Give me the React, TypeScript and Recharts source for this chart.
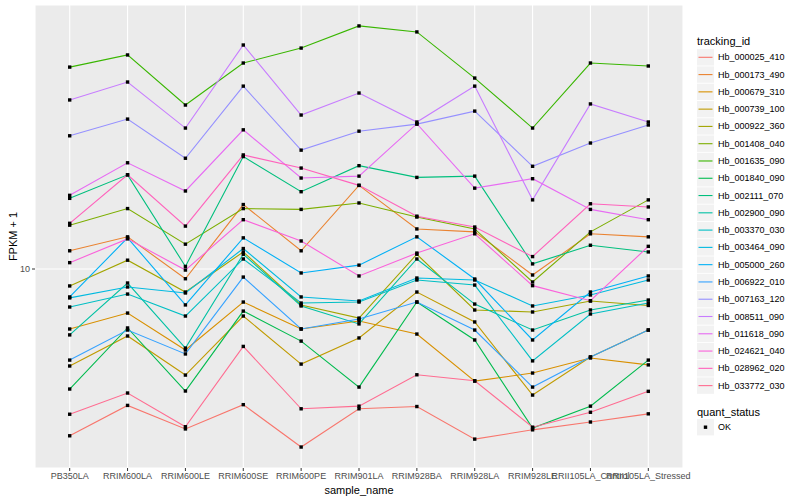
import React from 'react';
import { LineChart, Line, XAxis, YAxis, CartesianGrid } from 'recharts';

const samples = [
  'PB350LA', 'RRIM600LA', 'RRIM600LE', 'RRIM600SE', 'RRIM600PE', 'RRIM901LA',
  'RRIM928BA', 'RRIM928LA', 'RRIM928LE', 'RRII105LA_Control', 'RRII105LA_Stressed',
];

// FPKM + 1 per sample
const hb000025_410 = [2.78, 3.51, 2.93, 3.53, 2.55, 3.42, 3.48, 2.71, 2.91, 3.09, 3.29];
const hb000173_490 = [11.5, 12.8, 9.28, 16.4, 11.5, 19.0, 13.6, 13.3, 9.55, 13.1, 12.8];
const hb000679_310 = [6.31, 7.13, 5.37, 7.76, 6.31, 6.71, 6.07, 4.23, 4.5, 5.05, 4.79];
const hb000739_100 = [4.75, 5.98, 4.43, 6.97, 4.82, 5.89, 8.38, 6.66, 3.8, 5.09, 6.26];
const hb000922_360 = [8.78, 10.7, 8.38, 11.4, 7.59, 6.86, 11.2, 7.3, 7.19, 7.82, 7.56];
const hb001408_040 = [14.0, 15.9, 12.1, 15.9, 15.8, 16.6, 14.9, 13.6, 9.05, 13.3, 17.0];
const hb001635_090 = [47.1, 51.7, 35.2, 48.6, 54.5, 64.6, 61.7, 43.3, 29.5, 48.6, 47.5];
const hb001840_090 = [3.98, 6.36, 3.92, 7.24, 5.75, 4.04, 7.76, 5.8, 2.95, 3.49, 4.97];
const hb002111_070 = [17.2, 20.6, 10.2, 23.7, 18.1, 22.1, 20.2, 20.4, 10.4, 12.0, 11.4];
const hb002900_090 = [6.03, 8.98, 5.45, 11.2, 7.53, 6.56, 10.8, 7.64, 6.26, 7.3, 7.88];
const hb003370_030 = [7.47, 8.25, 6.97, 10.8, 7.7, 7.76, 9.19, 8.84, 4.94, 7.08, 7.7];
const hb003464_090 = [8.01, 8.71, 8.32, 11.7, 8.07, 7.82, 9.33, 9.19, 7.53, 8.19, 9.19];
const hb005000_260 = [8.07, 12.7, 7.59, 12.7, 9.7, 10.3, 12.8, 9.26, 5.8, 8.38, 9.48];
const hb006922_010 = [4.97, 6.26, 5.21, 9.4, 6.31, 6.81, 7.76, 6.26, 4.04, 5.09, 6.26];
const hb007163_120 = [27.8, 31.6, 23.4, 40.7, 24.9, 28.8, 30.4, 33.6, 22.0, 26.3, 30.2];
const hb008511_090 = [36.6, 42.0, 29.5, 55.8, 32.6, 38.6, 30.9, 40.7, 17.0, 35.5, 30.9];
const hb011618_090 = [17.6, 22.6, 18.2, 29.1, 20.1, 20.4, 30.5, 18.6, 20.0, 15.8, 14.6];
const hb024621_040 = [10.5, 12.6, 9.92, 14.6, 12.4, 9.48, 11.3, 13.1, 8.8, 7.84, 11.9];
const hb028962_020 = [14.2, 20.6, 13.9, 24.0, 21.7, 19.0, 15.0, 13.8, 11.0, 16.5, 16.1];
const hb033772_030 = [3.28, 3.86, 2.98, 5.52, 3.42, 3.49, 4.44, 4.24, 2.97, 3.33, 3.91];

const series: [string, number[]][] = [
  ['Hb_000025_410', hb000025_410],
  ['Hb_000173_490', hb000173_490],
  ['Hb_000679_310', hb000679_310],
  ['Hb_000739_100', hb000739_100],
  ['Hb_000922_360', hb000922_360],
  ['Hb_001408_040', hb001408_040],
  ['Hb_001635_090', hb001635_090],
  ['Hb_001840_090', hb001840_090],
  ['Hb_002111_070', hb002111_070],
  ['Hb_002900_090', hb002900_090],
  ['Hb_003370_030', hb003370_030],
  ['Hb_003464_090', hb003464_090],
  ['Hb_005000_260', hb005000_260],
  ['Hb_006922_010', hb006922_010],
  ['Hb_007163_120', hb007163_120],
  ['Hb_008511_090', hb008511_090],
  ['Hb_011618_090', hb011618_090],
  ['Hb_024621_040', hb024621_040],
  ['Hb_028962_020', hb028962_020],
  ['Hb_033772_030', hb033772_030],
];

// ggplot default hue palette for 20 levels
const palette = [
  '#F8766D', '#EA8331', '#D89000', '#C09B00', '#A3A500', '#7CAE00', '#39B600',
  '#00BB4E', '#00BF7D', '#00C1A3', '#00BFC4', '#00BAE0', '#00B0F6', '#35A2FF',
  '#9590FF', '#C77CFF', '#E76BF3', '#FA62DB', '#FF62BC', '#FF6C91',
];

const yTicks = [10];

const data = samples.map((s, i) => {
  const row: Record<string, string | number> = { sample: s };
  series.forEach(([id, vals]) => {
    row[id] = vals[i];
  });
  return row;
});

const font = 'Liberation Sans, Arial, Helvetica, sans-serif';

function squareDot(props: any) {
  const { cx, cy, index, dataKey } = props;
  const k = `${dataKey}-${index}`;
  if (cx == null || cy == null) return <g key={k} />;
  return <rect key={k} x={cx - 1.7} y={cy - 1.7} width={3.4} height={3.4} fill="#000" />;
}

function Legendish() {
  const top = 57.3;
  const step = 17.28;
  return (
    <svg width={800} height={500} style={{ position: 'absolute', left: 0, top: 0, pointerEvents: 'none' }} fontFamily={font}>
      <text x={697} y={41} fontSize={11} dominantBaseline="central" fill="#000">tracking_id</text>
      {series.map(([id], i) => {
        const cy = top + i * step;
        return (
          <g key={id}>
            <rect x={697} y={cy - 8.2} width={17} height={16.4} fill="#F2F2F2" />
            <line x1={698.5} x2={712.5} y1={cy} y2={cy} stroke={palette[i]} strokeWidth={1.1} />
            <text x={718} y={cy} fontSize={9} dominantBaseline="central" fill="#000">{id}</text>
          </g>
        );
      })}
      <text x={697} y={412} fontSize={11} dominantBaseline="central" fill="#000">quant_status</text>
      <rect x={697} y={419} width={17} height={16.4} fill="#F2F2F2" />
      <rect x={703.8} y={425.5} width={3.4} height={3.4} fill="#000" />
      <text x={718} y={427.2} fontSize={9} dominantBaseline="central" fill="#000">OK</text>
    </svg>
  );
}

export default function App() {
  return (
    <div style={{ position: 'absolute', left: 0, top: 0, width: 800, height: 500, background: '#fff' }}>
      <LineChart
        width={800}
        height={500}
        data={data}
        margin={{ top: 5, right: 117, bottom: 0, left: 0 }}
        style={{ fontFamily: font }}
      >
        <CartesianGrid fill="#EBEBEB" fillOpacity={1} stroke="#FFFFFF" strokeWidth={1.1} />
        <XAxis
          dataKey="sample"
          interval={0}
          height={32}
          padding={{ left: 34.7, right: 34.7 }}
          axisLine={false}
          tickLine={{ stroke: '#333333' }}
          tickSize={3}
          tickMargin={2}
          tick={{ fill: '#4D4D4D', fontSize: 9 }}
          label={{
            content: () => (
              <text x={359} y={490} textAnchor="middle" dominantBaseline="central" fontSize={11} fill="#000">
                sample_name
              </text>
            ),
          }}
        />
        <YAxis
          type="number"
          scale="log"
          domain={[2.171, 75.86]}
          allowDataOverflow
          ticks={yTicks}
          width={35}
          axisLine={false}
          tickLine={{ stroke: '#333333' }}
          tickSize={3}
          tickMargin={2}
          tick={{ fill: '#4D4D4D', fontSize: 9 }}
          label={{
            content: () => (
              <text
                x={13}
                y={236.5}
                transform="rotate(-90 13 236.5)"
                textAnchor="middle"
                dominantBaseline="central"
                fontSize={11}
                fill="#000"
              >
                FPKM + 1
              </text>
            ),
          }}
        />
        {series.map(([id], i) => (
          <Line
            key={id}
            type="linear"
            dataKey={id}
            stroke={palette[i]}
            strokeWidth={1.1}
            dot={false}
            activeDot={false}
            isAnimationActive={false}
          />
        ))}
        {series.map(([id]) => (
          <Line
            key={`${id}-pts`}
            type="linear"
            dataKey={id}
            stroke="none"
            dot={squareDot}
            activeDot={false}
            legendType="none"
            isAnimationActive={false}
          />
        ))}
      </LineChart>
      <Legendish />
    </div>
  );
}
